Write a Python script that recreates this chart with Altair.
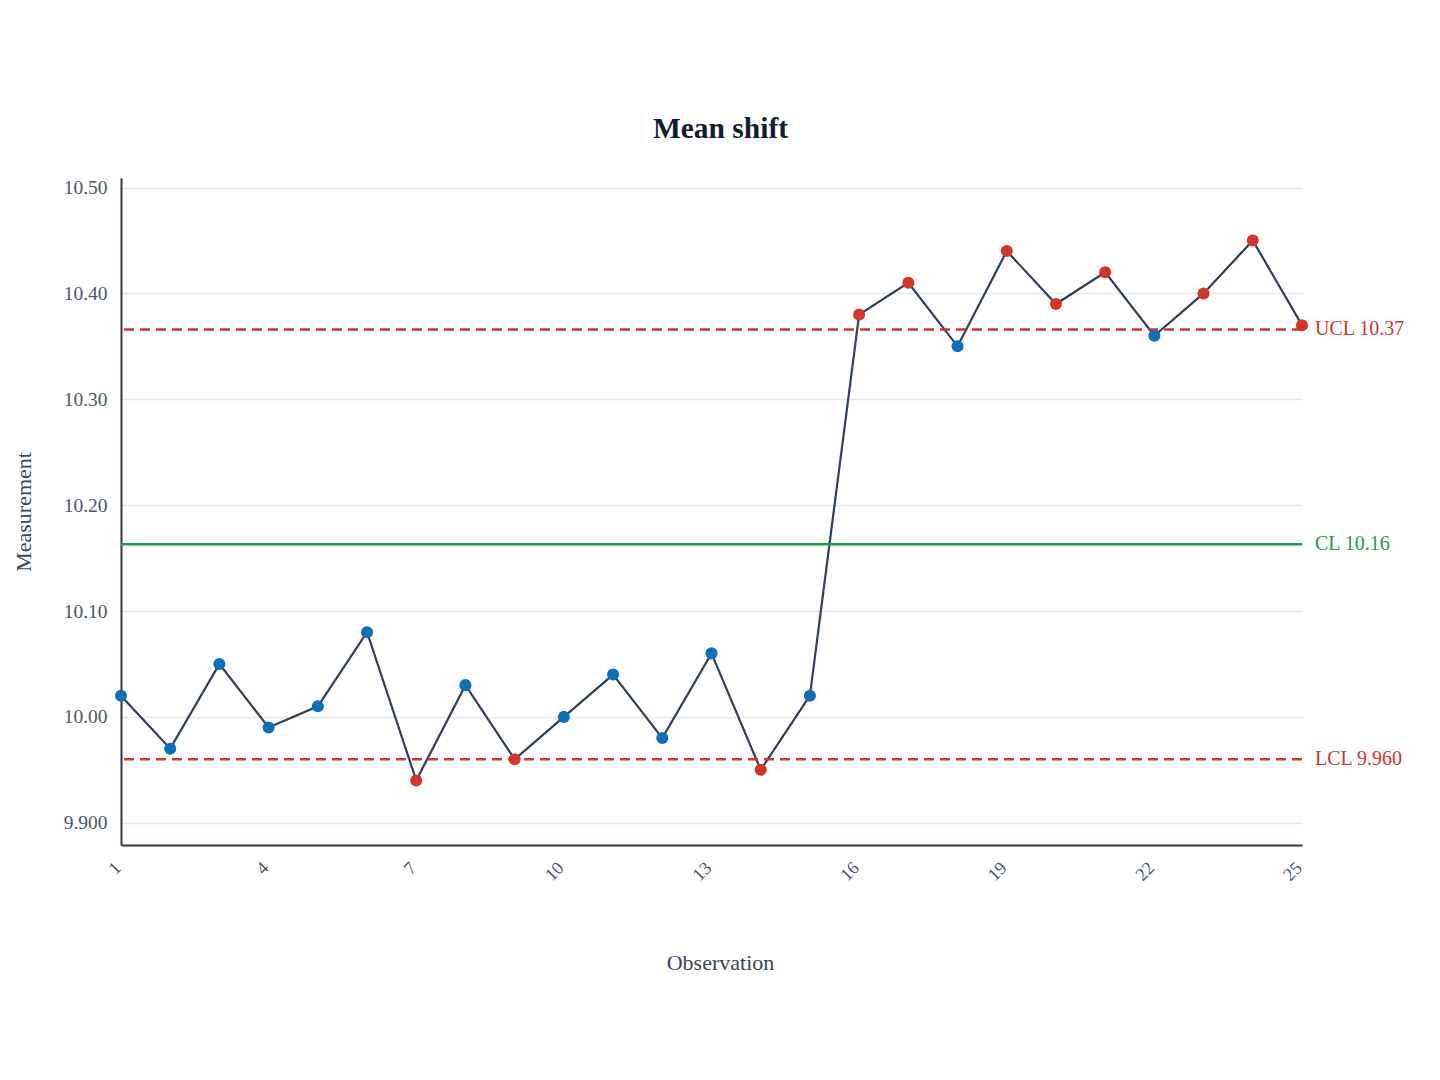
import altair as alt
import pandas as pd

# observations
obs = list(range(1, 26))
measurement = [10.02, 9.97, 10.05, 9.99, 10.01, 10.08, 9.94, 10.03, 9.96, 10.00,
               10.04, 9.98, 10.06, 9.95, 10.02, 10.38, 10.41, 10.35, 10.44, 10.39,
               10.42, 10.36, 10.40, 10.45, 10.37]
flagged = [False, False, False, False, False, False, True, False, True, False,
           False, False, False, True, False, True, True, False, True, True,
           True, False, True, True, True]

# control limits
limit_names = ["UCL", "CL", "LCL"]
limit_values = [10.366, 10.163, 9.960]
limit_labels = ["UCL 10.37", "CL 10.16", "LCL 9.960"]

x_ticks = [1, 4, 7, 10, 13, 16, 19, 22, 25]
y_ticks = [9.9, 10.0, 10.1, 10.2, 10.3, 10.4, 10.5]

FONT = "Liberation Serif"
RED = "#d3342b"
GREEN = "#1f9850"
BLUE = "#0b6fba"

df = pd.DataFrame({
    "obs": obs,
    "value": measurement,
    "status": ["out" if f else "in" for f in flagged],
})
limits = pd.DataFrame({
    "name": limit_names,
    "value": limit_values,
    "label": limit_labels,
    "obs": [obs[-1]] * 3,
})

x_scale = alt.Scale(domain=[1, 25], nice=False, zero=False)
y_scale = alt.Scale(domain=[9.879, 10.509], nice=False, zero=False)
limit_color = alt.Scale(domain=limit_names, range=[RED, GREEN, RED])

x_enc = alt.X(
    "obs:Q", scale=x_scale, title="Observation",
    axis=alt.Axis(values=x_ticks, labelAngle=-45, labelAlign="right",
                  labelBaseline="middle", labelPadding=20, labelOffset=-3,
                  labelFontSize=18, ticks=False, grid=False,
                  domainColor="#2d3748", domainWidth=2,
                  titleX=599, titleY=124, titleBaseline="alphabetic"),
)
y_enc = alt.Y(
    "value:Q", scale=y_scale, title="Measurement",
    axis=alt.Axis(values=y_ticks, format=".4r", ticks=False, labelPadding=14,
                  domainColor="#2d3748", domainWidth=2,
                  gridColor="#e4e8f0", gridWidth=1.5, titlePadding=28),
)

limit_lines = alt.Chart(limits).mark_rule(strokeWidth=2.5).encode(
    y=alt.Y("value:Q", scale=y_scale),
    color=alt.Color("name:N", scale=limit_color, legend=None),
    strokeDash=alt.condition(alt.datum.name == "CL", alt.value([1, 0]), alt.value([10, 6])),
)

limit_text = alt.Chart(limits).mark_text(align="left", baseline="middle", dx=13,
                                         font=FONT, fontSize=20).encode(
    x=alt.X("obs:Q", scale=x_scale),
    y=alt.Y("value:Q", scale=y_scale),
    text="label:N",
    color=alt.Color("name:N", scale=limit_color, legend=None),
)

line = alt.Chart(df).mark_line(color="#323e54", strokeWidth=2.2).encode(
    x=x_enc, y=y_enc,
)

points = alt.Chart(df).mark_point(filled=True, size=145, opacity=1).encode(
    x=alt.X("obs:Q", scale=x_scale),
    y=alt.Y("value:Q", scale=y_scale),
    color=alt.Color("status:N", scale=alt.Scale(domain=["in", "out"], range=[BLUE, RED]),
                    legend=None),
)

chart = alt.layer(line, limit_lines, limit_text, points).resolve_scale(
    color="independent"
).properties(
    width=1181,
    height=667,
    background="white",
    autosize=alt.AutoSizeParams(type="none"),
    padding={"left": 113, "top": 170, "right": 120, "bottom": 200},
    title=alt.TitleParams("Mean shift", fontSize=29.5, fontWeight="bold", font=FONT,
                          color="#141c33", offset=33, dx=9),
).configure_view(stroke=None).configure_axis(
    labelFont=FONT, titleFont=FONT, labelFontSize=19.5, titleFontSize=22,
    labelColor="#4a5568", titleColor="#3a4558", titleFontWeight="normal",
)

chart.save("out.html", embed_options={"renderer": "svg", "actions": False})
